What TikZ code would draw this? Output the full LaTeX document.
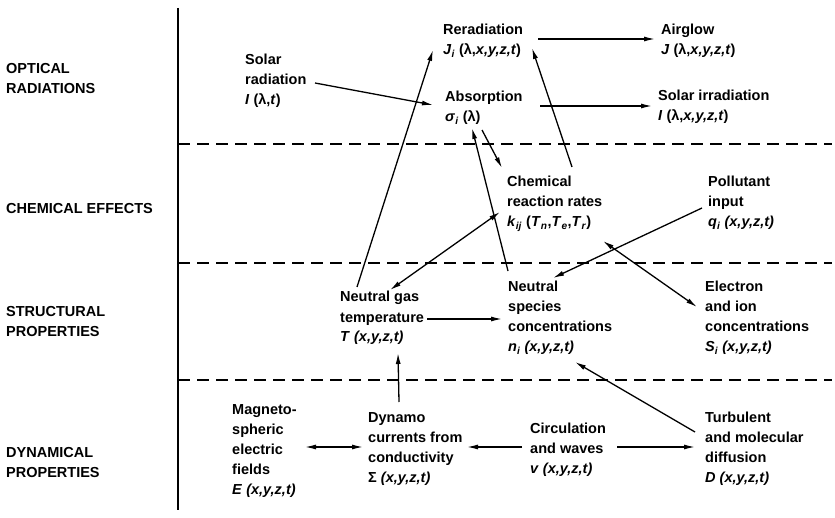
\documentclass[tikz,border=0pt]{standalone}
\usepackage{fontspec}
\setmainfont{Liberation Sans}
\usetikzlibrary{arrows.meta}
\newcommand{\isub}[1]{\textsubscript{\textit{#1}}}
\newcommand{\lam}{\textup{λ}}
\newcommand{\xyzt}{\textit{(x,y,z,t)}}
\tikzset{
	lbl/.style={anchor=base west, inner sep=0pt, align=left, font=\fontsize{14.5}{20}\selectfont\bfseries},
	arr/.style={line width=1.3pt, -{Latex[length=11pt,width=5pt]}},
	dbl/.style={line width=1.3pt, {Latex[length=11pt,width=5pt]}-{Latex[length=11pt,width=5pt]}},
	sep/.style={line width=1.4pt, dash pattern=on 12pt off 7pt}
}
\begin{document}
\begin{tikzpicture}[x=1pt,y=-1pt]
	\useasboundingbox (0,0) rectangle (835,518);
	\draw[line width=1.4pt] (178,8) -- (178,510);
	\foreach \y in {144,263,380}
		\draw[sep] (178,\y) -- (832,\y);
	\node[lbl] (opt) at (6,94) {OPTICAL\\RADIATIONS};
	\node[lbl] (chm) at (6,214) {CHEMICAL EFFECTS};
	\node[lbl] (str) at (6,337) {STRUCTURAL\\PROPERTIES};
	\node[lbl] (dyn) at (6,477) {DYNAMICAL\\PROPERTIES};
	\node[lbl] (solar) at (245,105) {Solar\\radiation\\\textit{I} (\lam,\textit{t})};
	\node[lbl] (rerad) at (443,55) {Reradiation\\\textit{J}\isub{i} (\lam,\textit{x,y,z,t})};
	\node[lbl] (airglow) at (661,55) {Airglow\\\textit{J} (\lam,\textit{x,y,z,t})};
	\node[lbl] (absorb) at (445,122) {Absorption\\\textit{σ}\isub{i} (\lam)};
	\node[lbl] (irrad) at (658,121) {Solar irradiation\\\textit{I} (\lam,\textit{x,y,z,t})};
	\node[lbl] (chem) at (507,227) {Chemical\\reaction rates\\\textit{k}\isub{ij} (\textit{T}\isub{n},\textit{T}\isub{e},\textit{T}\isub{r})};
	\node[lbl] (pollut) at (708,227) {Pollutant\\input\\\textit{q}\isub{i} \xyzt};
	\node[lbl] (ntemp) at (340,342) {Neutral gas\\temperature\\\textit{T} \xyzt};
	\node[lbl] (nspec) at (508,352) {Neutral\\species\\concentrations\\\textit{n}\isub{i} \xyzt};
	\node[lbl] (elec) at (705,352) {Electron\\and ion\\concentrations\\\textit{S}\isub{i} \xyzt};
	\node[lbl] (magneto) at (232,494) {Magneto-\\spheric\\electric\\fields\\\textit{E} \xyzt};
	\node[lbl] (dynamo) at (368,482) {Dynamo\\currents from\\conductivity\\Σ \xyzt};
	\node[lbl] (circ) at (530,473) {Circulation\\and waves\\\textit{v} \xyzt};
	\node[lbl] (turb) at (705,482) {Turbulent\\and molecular\\diffusion\\\textit{D} \xyzt};
	\draw[arr] ([shift={(70,-22)}]solar.base west) -- ([shift={(-12,-17)}]absorb.base west);
	\draw[arr] ([shift={(17,-55)}]ntemp.base west) -- ([shift={(-10,-5)}]rerad.base west);
	\draw[dbl] ([shift={(-7,-15)}]chem.base west) -- ([shift={(50,-52)}]ntemp.base west);
	\draw[arr] ([shift={(0,-81)}]nspec.base west) -- ([shift={(27,6)}]absorb.base west);
	\draw[arr] ([shift={(37,8)}]absorb.base west) -- ([shift={(-5,-59)}]chem.base west);
	\draw[arr] ([shift={(65,-60)}]chem.base west) -- ([shift={(89,-7)}]rerad.base west);
	\draw[arr] ([shift={(95,-16)}]rerad.base west) -- ([shift={(-6,-16)}]airglow.base west);
	\draw[arr] ([shift={(95,-16)}]absorb.base west) -- ([shift={(-6,-15)}]irrad.base west);
	\draw[arr] ([shift={(-6,-19)}]pollut.base west) -- ([shift={(45,-74)}]nspec.base west);
	\draw[dbl] ([shift={(96,14)}]chem.base west) -- ([shift={(-8,-45)}]elec.base west);
	\draw[arr] ([shift={(-10,-50)}]turb.base west) -- ([shift={(67,10)}]nspec.base west);
	\draw[arr] ([shift={(87,-23)}]ntemp.base west) -- ([shift={(-6,-33)}]nspec.base west);
	\draw[arr] ([shift={(31,-80)}]dynamo.base west) -- ([shift={(58,11)}]ntemp.base west);
	\draw[dbl] ([shift={(73,-47)}]magneto.base west) -- ([shift={(-5,-35)}]dynamo.base west);
	\draw[arr] ([shift={(-8,-26)}]circ.base west) -- ([shift={(99,-35)}]dynamo.base west);
	\draw[arr] ([shift={(87,-26)}]circ.base west) -- ([shift={(-10,-35)}]turb.base west);
\end{tikzpicture}
\end{document}
